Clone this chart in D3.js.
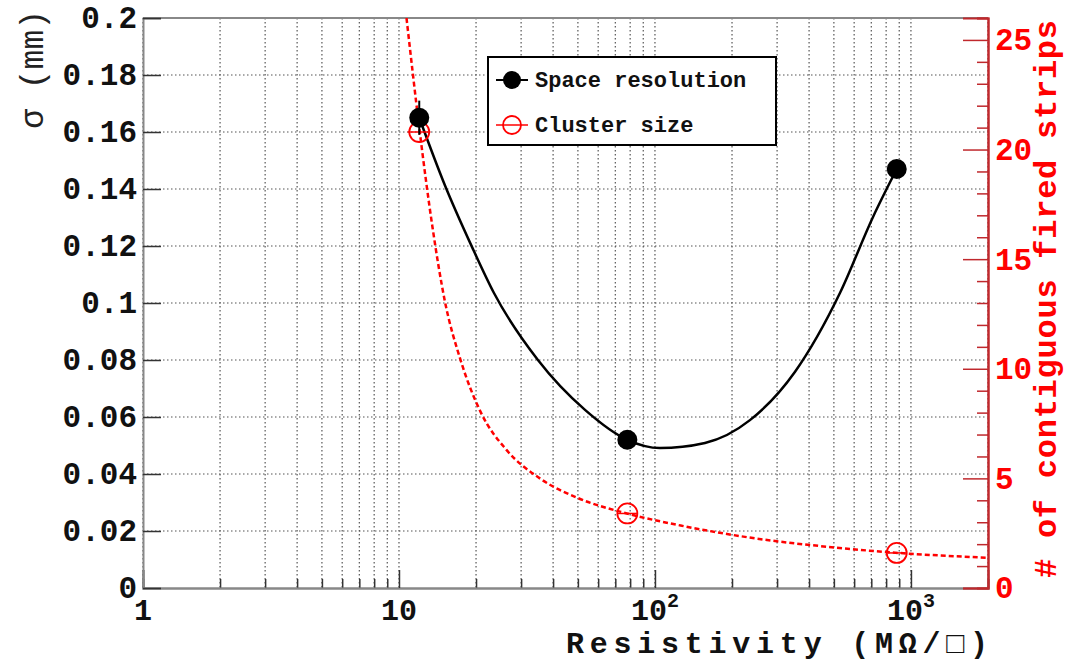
<!DOCTYPE html>
<html>
<head>
<meta charset="utf-8">
<script src="https://cdn.jsdelivr.net/npm/d3@7"></script>
<style>
body { margin: 0; background: #fff; }
text { font-family: "Liberation Mono", "Courier New", monospace; }
</style>
</head>
<body>
<div id="main"></div>
<script>
// ===========================data=======================
// resistivity of the samples (MOhm/sq)
var resistivity = [12, 78, 880];
var resistivityErr = [0.8, 4, 40];
// space resolution (mm), left axis
var sigma = [0.165, 0.052, 0.147];
var sigmaErr = [0.006, 0.002, 0.002];
// cluster size (# strips), right axis
var clusterSize = [20.8, 3.4, 1.6];
// black smooth curve
var curveRes = [12, 15.1, 19.3, 23.5, 34.9, 53.3, 78, 104.6, 156.8, 235, 352, 528, 711, 880];
var curveSigma = [0.165, 0.1414, 0.1196, 0.1035, 0.080, 0.0625, 0.052, 0.0491, 0.0509, 0.0589, 0.0758, 0.1035, 0.1302, 0.147];
// red dashed curve
var fitRes = [10.7, 12.0, 13.5, 15.1, 17.4, 20.9, 26.3, 35.5, 50.1, 77.6, 126, 251, 501, 891, 2000];
var fitSize = [26.0, 21.0, 16.5, 13.1, 10.4, 8.0, 6.3, 5.0, 4.1, 3.4, 2.85, 2.25, 1.85, 1.6, 1.38];

var xMajor = [1, 10, 100, 1000];
var xMajorLabels = [["1", ""], ["10", ""], ["10", "2"], ["10", "3"]];
var yTicks = [0, 0.02, 0.04, 0.06, 0.08, 0.1, 0.12, 0.14, 0.16, 0.18, 0.2];
var rMajor = [0, 5, 10, 15, 20, 25];

// ===========================layout=======================
const W = 1065, H = 664;
const frame = {left: 143, top: 18, right: 988, bottom: 588};
const red = '#ff0000';
const darkRed = '#c0282d';

const svg = d3.select('#main').append('svg')
	.attr('width', W)
	.attr('height', H);

var x = d3.scaleLog().domain([1, 2000]).range([frame.left, frame.right]);
var y = d3.scaleLinear().domain([0, 0.2]).range([frame.bottom, frame.top]);
var yR = d3.scaleLinear().domain([0, 26]).range([frame.bottom, frame.top]);

// minor log ticks 2..9 in every decade
var xMinor = [];
xMajor.forEach(function(d){
	for (var k = 2; k <= 9; k++) {
		if (d * k <= 2000) xMinor.push(d * k);
	}
});

// ======================grid===================
var grid = svg.append('g').attr('class', 'grid');
grid.selectAll('line.vx')
	.data(xMajor.concat(xMinor))
	.enter().append('line')
	.attr('x1', d => x(d)).attr('x2', d => x(d))
	.attr('y1', frame.top).attr('y2', frame.bottom);
grid.selectAll('line.hy')
	.data(yTicks.slice(1, -1))
	.enter().append('line')
	.attr('x1', frame.left).attr('x2', frame.right)
	.attr('y1', d => y(d)).attr('y2', d => y(d));
grid.selectAll('line')
	.attr('stroke', '#555')
	.attr('stroke-width', 1.2)
	.attr('stroke-dasharray', '1.5,2.5');

// ======================frame and axes===================
svg.append('line')
	.attr('x1', frame.left).attr('x2', frame.right)
	.attr('y1', frame.top).attr('y2', frame.top)
	.attr('stroke', '#888').attr('stroke-width', 2);

// bottom axis: ticks point inward
var xMinorAxis = d3.axisBottom(x).tickValues(xMinor).tickSize(-9).tickFormat('');
var xMajorAxis = d3.axisBottom(x).tickValues(xMajor).tickSize(-18).tickFormat('');
svg.append('g').attr('transform', 'translate(0,' + frame.bottom + ')').call(xMinorAxis);
svg.append('g').attr('transform', 'translate(0,' + frame.bottom + ')').call(xMajorAxis);

var xLab = svg.append('g').selectAll('text')
	.data(xMajor)
	.enter().append('text')
	.attr('x', d => x(d))
	.attr('y', 620)
	.attr('text-anchor', 'middle')
	.attr('font-size', 30)
	.attr('font-weight', 'bold')
	.attr('fill', '#111');
xLab.append('tspan').text((d, i) => xMajorLabels[i][0]);
xLab.append('tspan')
	.attr('dy', -13)
	.attr('font-size', 20)
	.text((d, i) => xMajorLabels[i][1]);

// left axis
var yAxis = d3.axisLeft(y).tickValues(yTicks).tickSize(-18).tickPadding(6)
	.tickFormat(d => String(+d.toFixed(2)));
var gy = svg.append('g').attr('transform', 'translate(' + frame.left + ',0)').call(yAxis);
gy.selectAll('text')
	.attr('font-size', 31)
	.attr('font-weight', 'bold')
	.attr('fill', '#111')
	.attr('font-family', '"Liberation Mono", monospace');

// right axis (red)
var rMinor = d3.range(0, 27).filter(d => rMajor.indexOf(d) < 0);
var rMinorAxis = d3.axisRight(yR).tickValues(rMinor).tickSize(-11).tickFormat('');
var rMajorAxis = d3.axisRight(yR).tickValues(rMajor).tickSize(-25).tickPadding(7);
var grMinor = svg.append('g').attr('transform', 'translate(' + frame.right + ',0)').call(rMinorAxis);
var gr = svg.append('g').attr('transform', 'translate(' + frame.right + ',0)').call(rMajorAxis);
gr.selectAll('text')
	.attr('font-size', 31)
	.attr('font-weight', 'bold')
	.attr('fill', red)
	.attr('font-family', '"Liberation Mono", monospace');

svg.selectAll('.domain').attr('stroke', '#888').attr('stroke-width', 2);
svg.selectAll('.tick line').attr('stroke', '#333').attr('stroke-width', 1.5);
grMinor.selectAll('.tick line, .domain').attr('stroke', darkRed);
gr.selectAll('.tick line, .domain').attr('stroke', darkRed);

// ======================axis titles===================
svg.append('text')
	.attr('x', frame.right)
	.attr('y', 653)
	.attr('text-anchor', 'end')
	.attr('font-size', 30)
	.attr('font-weight', 'bold')
	.attr('fill', '#111')
	.attr('textLength', 422)
	.text('Resistivity (M\u03A9/\u25A1)');

svg.append('text')
	.attr('transform', 'translate(43,10) rotate(-90)')
	.attr('text-anchor', 'end')
	.attr('font-size', 33)
	.attr('fill', '#222')
	.text('\u03C3 (mm)');

svg.append('text')
	.attr('transform', 'translate(1056,20) rotate(-90)')
	.attr('text-anchor', 'end')
	.attr('font-size', 32)
	.attr('font-weight', 'bold')
	.attr('fill', red)
	.attr('textLength', 558)
	.text('# of contiguous fired strips');

// ======================curves and points===================
svg.append('clipPath').attr('id', 'plotclip')
	.append('rect')
	.attr('x', frame.left).attr('y', frame.top)
	.attr('width', frame.right - frame.left)
	.attr('height', frame.bottom - frame.top);

var fitData = fitRes.map((d, i) => [d, fitSize[i]]);
svg.append('path')
	.datum(fitData)
	.attr('clip-path', 'url(#plotclip)')
	.attr('fill', 'none')
	.attr('stroke', red)
	.attr('stroke-width', 2.5)
	.attr('stroke-dasharray', '5,3')
	.attr('d', d3.line().x(d => x(d[0])).y(d => yR(d[1])).curve(d3.curveMonotoneX));

var curveData = curveRes.map((d, i) => [d, curveSigma[i]]);
svg.append('path')
	.datum(curveData)
	.attr('fill', 'none')
	.attr('stroke', '#000')
	.attr('stroke-width', 2.5)
	.attr('d', d3.line().x(d => x(d[0])).y(d => y(d[1])).curve(d3.curveMonotoneX));

// cluster size markers (open red circles with horizontal bar)
var cl = svg.append('g').selectAll('g')
	.data(resistivity)
	.enter().append('g');
cl.append('line')
	.attr('x1', (d, i) => x(d - resistivityErr[i]) - 4)
	.attr('x2', (d, i) => x(d + resistivityErr[i]) + 4)
	.attr('y1', (d, i) => yR(clusterSize[i]))
	.attr('y2', (d, i) => yR(clusterSize[i]))
	.attr('stroke', red).attr('stroke-width', 1.5);
cl.append('circle')
	.attr('cx', d => x(d))
	.attr('cy', (d, i) => yR(clusterSize[i]))
	.attr('r', 10)
	.attr('fill', 'none')
	.attr('stroke', red)
	.attr('stroke-width', 1.8);

// space resolution markers with error bars
var sp = svg.append('g').selectAll('g')
	.data(resistivity)
	.enter().append('g');
sp.append('line')
	.attr('x1', (d, i) => x(d - resistivityErr[i]))
	.attr('x2', (d, i) => x(d + resistivityErr[i]))
	.attr('y1', (d, i) => y(sigma[i]))
	.attr('y2', (d, i) => y(sigma[i]))
	.attr('stroke', '#000').attr('stroke-width', 2);
sp.append('line')
	.attr('x1', d => x(d)).attr('x2', d => x(d))
	.attr('y1', (d, i) => y(sigma[i] - sigmaErr[i]))
	.attr('y2', (d, i) => y(sigma[i] + sigmaErr[i]))
	.attr('stroke', '#000').attr('stroke-width', 2);
sp.append('circle')
	.attr('cx', d => x(d))
	.attr('cy', (d, i) => y(sigma[i]))
	.attr('r', 10)
	.attr('fill', '#000');

// ======================legend===================
var legend = svg.append('g');
legend.append('rect')
	.attr('x', 488).attr('y', 57)
	.attr('width', 288).attr('height', 88)
	.attr('fill', '#fff')
	.attr('stroke', '#000')
	.attr('stroke-width', 2);
legend.append('line')
	.attr('x1', 496).attr('x2', 528).attr('y1', 80).attr('y2', 80)
	.attr('stroke', '#000').attr('stroke-width', 2);
legend.append('circle')
	.attr('cx', 512).attr('cy', 80).attr('r', 9).attr('fill', '#000');
legend.append('line')
	.attr('x1', 496).attr('x2', 528).attr('y1', 125).attr('y2', 125)
	.attr('stroke', red).attr('stroke-width', 1.5);
legend.append('circle')
	.attr('cx', 512).attr('cy', 125).attr('r', 9)
	.attr('fill', 'none').attr('stroke', red).attr('stroke-width', 1.8);
legend.selectAll('text.lbl')
	.data(['Space resolution', 'Cluster size'])
	.enter().append('text')
	.attr('x', 535)
	.attr('y', (d, i) => 87 + i * 45)
	.attr('font-size', 22)
	.attr('font-weight', 'bold')
	.attr('fill', '#111')
	.text(d => d);
</script>
</body>
</html>
